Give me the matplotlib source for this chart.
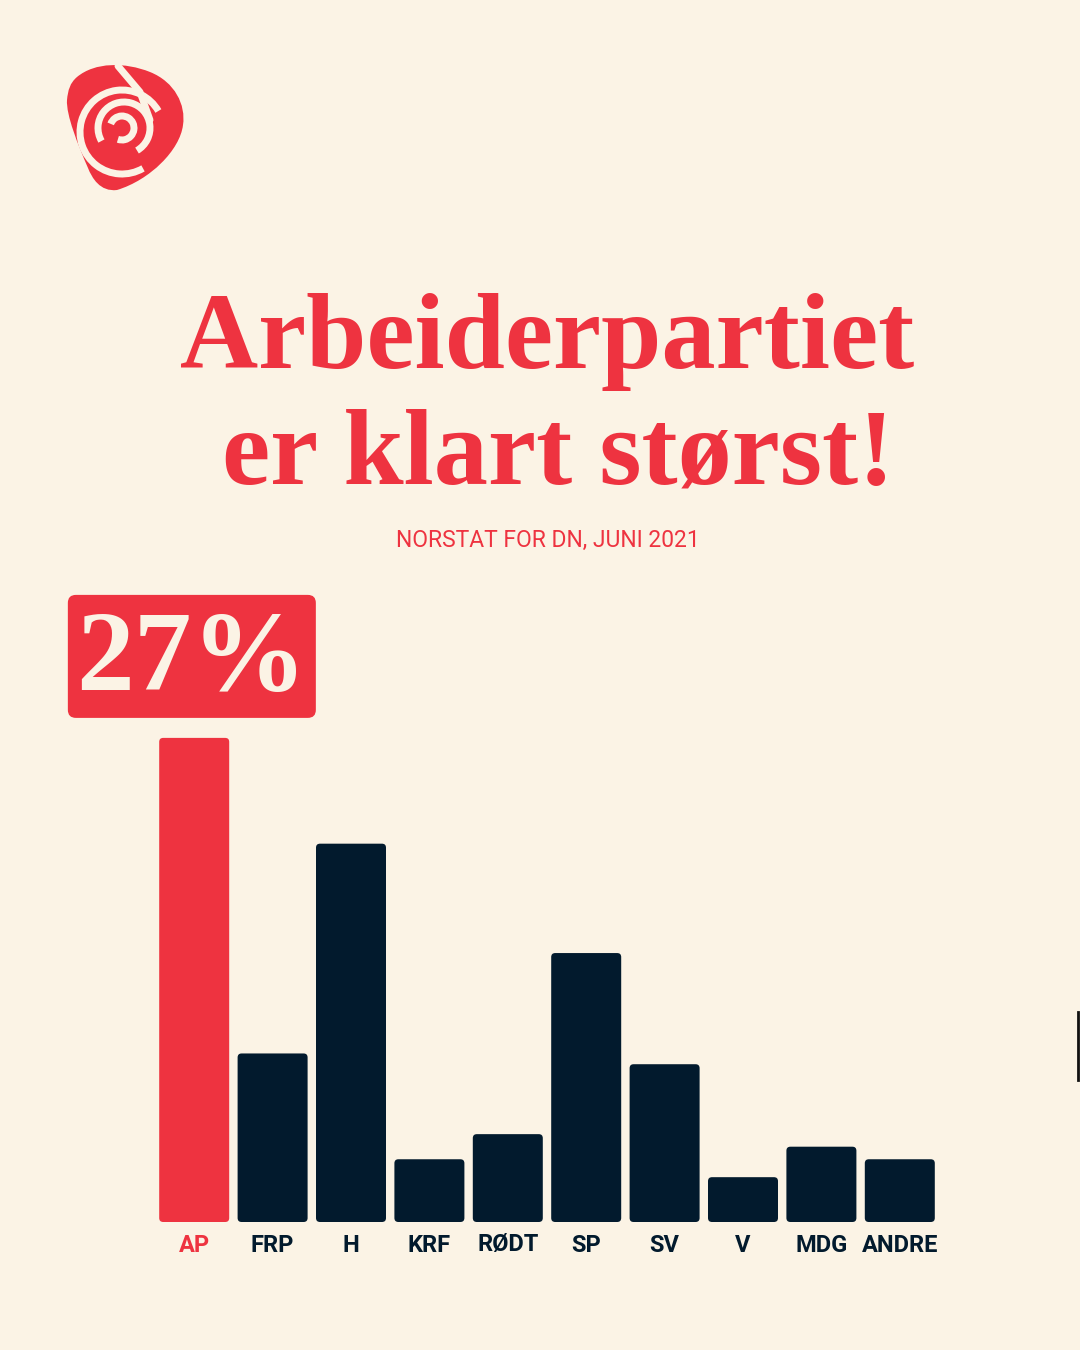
import numpy as np
import matplotlib.pyplot as plt
from matplotlib.patches import FancyBboxPatch, PathPatch, Arc
from matplotlib.path import Path

parties = ["AP", "FRP", "H", "KRF", "RØDT", "SP", "SV", "V", "MDG", "ANDRE"]
values = [27.0, 9.4, 21.1, 3.5, 4.9, 15.0, 8.8, 2.5, 4.2, 3.5]
title_lines = ["Arbeiderpartiet", "er klart størst!"]
subtitle = "NORSTAT FOR DN, JUNI 2021"

BG = "#FBF3E5"
RED = "#EE3340"
NAVY = "#021A2D"
CREAM = "#FBF3E5"

W, H = 1080, 1350
fig = plt.figure(figsize=(W / 100, H / 100), dpi=100, facecolor=BG)

# overlay in pixel coords for logo and header text
bg = fig.add_axes([0, 0, 1, 1])
bg.set_xlim(0, W)
bg.set_ylim(H, 0)
bg.axis("off")

# rose logo (rough)
verts = [(77, 77),
         (95, 62), (125, 62), (150, 72),
         (175, 82), (186, 105), (183, 125),
         (180, 150), (150, 180), (117, 190),
         (100, 192), (92, 178), (88, 168),
         (78, 145), (66, 115), (67, 100),
         (68, 90), (70, 83), (77, 77)]
codes = [Path.MOVETO] + [Path.CURVE4] * 18
bg.add_patch(PathPatch(Path(verts, codes), facecolor=RED, edgecolor="none"))
for (cx, cy, r, t1, t2) in [(122, 132, 42, 60, 330), (124, 128, 26, 150, 420),
                            (122, 128, 12, 200, 470)]:
    bg.add_patch(Arc((cx, cy), 2 * r, 2 * r, theta1=t1, theta2=t2,
                     color=CREAM, lw=5))
bg.plot([118, 140, 150], [66, 92, 120], color=CREAM, lw=5, solid_capstyle="round")

bg.text(547, 368, title_lines[0], ha="center", va="baseline", color=RED,
        fontsize=78, fontweight="bold", family="Liberation Serif")
bg.text(558, 483, title_lines[1], ha="center", va="baseline", color=RED,
        fontsize=78, fontweight="bold", family="Liberation Serif")
bg.text(548, 547, subtitle, ha="center", va="baseline", color=RED,
        fontsize=16.5, family="Roboto")

# small dark mark at right edge
bg.plot([1078, 1078], [1012, 1080], color="#111111", lw=2)

# bar chart
base_px, top_px = 1222, 580
left_px, pitch_px = 155, 78.4
unit_px = 17.93  # pixels per percentage point
ax = fig.add_axes([left_px / W, (H - base_px) / H, pitch_px * len(parties) / W,
                   (base_px - top_px) / H])
ax.set_xlim(-0.5, len(parties) - 0.5)
ax.set_ylim(0, (base_px - top_px) / unit_px)
ax.axis("off")

bw = 70 / pitch_px
r = 4 / pitch_px
aspect = pitch_px / unit_px
for i, (p, v) in enumerate(zip(parties, values)):
    c = RED if i == 0 else NAVY
    ax.add_patch(FancyBboxPatch((i - bw / 2, 0), bw, v,
                                boxstyle=f"round,pad=0,rounding_size={r}",
                                mutation_aspect=aspect, facecolor=c, edgecolor="none"))
    ax.text(i, -23 / unit_px, p, ha="center", va="center", color=c,
            fontsize=17, fontweight="bold", family="Roboto")

# highlight label above AP
top = values[0] + 20 / unit_px
bw2 = 248 / pitch_px
bh = 123 / unit_px
ax.add_patch(FancyBboxPatch((-0.03 - bw2 / 2, top), bw2, bh,
                            boxstyle=f"round,pad=0,rounding_size={8 / pitch_px}",
                            mutation_aspect=aspect, facecolor=RED, edgecolor="none",
                            clip_on=False))
ax.text(-0.03, top + 28 / unit_px, f"{values[0]:.0f}%", ha="center", va="baseline",
        color=CREAM, fontsize=83, fontweight="bold", family="Liberation Serif",
        clip_on=False)

fig.savefig("out.png", dpi=100, facecolor=BG)
